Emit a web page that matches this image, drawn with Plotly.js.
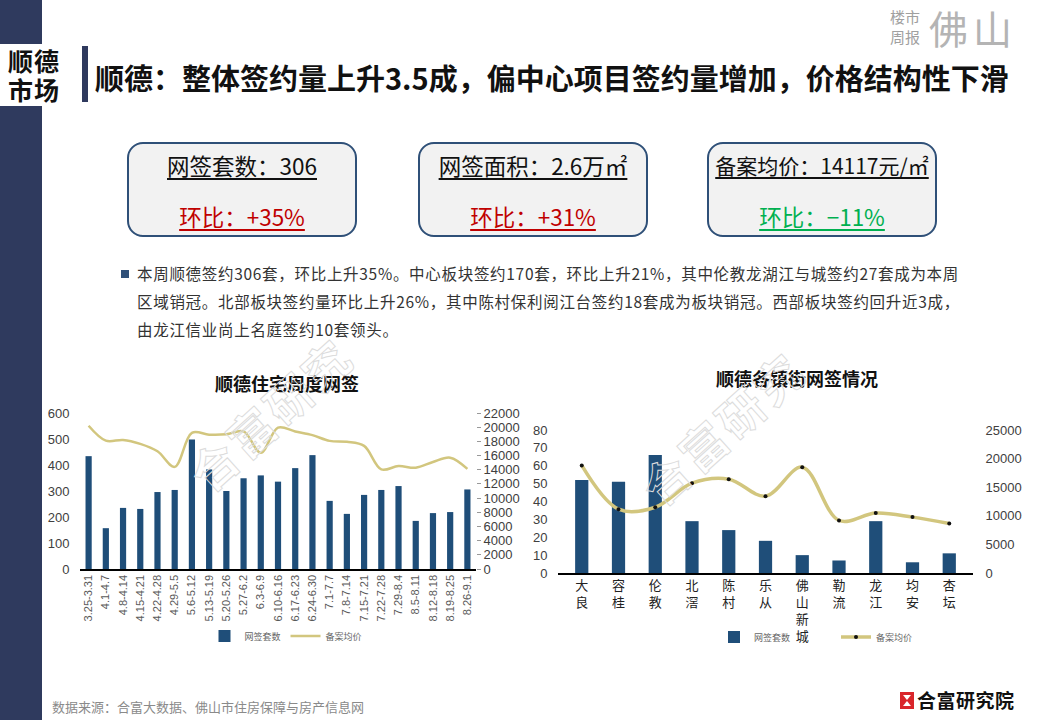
<!DOCTYPE html>
<html><head><meta charset="utf-8">
<script src="https://cdn.plot.ly/plotly-3.0.1.min.js"></script>
<style>
body{margin:0;padding:0;background:#fff;}
#page{position:relative;width:1040px;height:720px;overflow:hidden;background:#fff;font-family:"Noto Sans CJK SC","Liberation Sans",sans-serif;}
#plot{position:absolute;left:0;top:0;width:1040px;height:720px;}
.abs{position:absolute;}
.box{position:absolute;top:142px;width:226px;height:91px;border:2.5px solid #2F5078;border-radius:16px;background:#F2F2F2;}
.l1{position:absolute;left:0;right:0;top:5px;text-align:center;font-size:22.5px;color:#111;text-decoration:underline;text-underline-offset:3px;white-space:nowrap;}
.l2{position:absolute;left:0;right:0;top:56px;text-align:center;font-size:22.5px;text-decoration:underline;text-underline-offset:3px;}
.wm{position:absolute;font-size:46px;font-weight:700;color:transparent;-webkit-text-stroke:1px #dcdcdc;white-space:nowrap;pointer-events:none;transform-origin:center;letter-spacing:4px;}
.bt{position:absolute;left:137px;font-size:15.5px;color:#333;white-space:nowrap;letter-spacing:0.7px;}
</style></head>
<body>
<div id="page">
  <div class="abs" style="left:0;top:0;width:42px;height:720px;background:#2F3A5E;"></div>
  <div class="abs" style="left:0;top:44px;width:76px;height:62px;background:#fff;"></div>
  <div class="abs" style="left:8px;top:46px;width:70px;font-size:25px;font-weight:700;line-height:29px;color:#111;letter-spacing:1px;">顺德<br>市场</div>
  <div class="abs" style="left:82px;top:46px;width:6px;height:56px;background:#2F3A5E;"></div>
  <div class="abs" style="left:95px;top:56px;font-size:29px;font-weight:700;color:#111;white-space:nowrap;">顺德：整体签约量上升3.5成，偏中心项目签约量增加，价格结构性下滑</div>
  <div class="abs" style="left:890px;top:7px;font-size:15px;line-height:20px;color:#a0a0a0;">楼市<br>周报</div>
  <div class="abs" style="left:929px;top:8px;font-size:39px;line-height:39px;color:#b4b4b4;letter-spacing:5px;">佛山</div>

  <div class="box" style="left:127px;"><div class="l1">网签套数：306</div><div class="l2" style="color:#C00000;">环比：+35%</div></div>
  <div class="box" style="left:418px;"><div class="l1">网签面积：2.6万㎡</div><div class="l2" style="color:#C00000;">环比：+31%</div></div>
  <div class="box" style="left:707px;"><div class="l1" style="font-size:21px;top:6px;">备案均价：14117元/㎡</div><div class="l2" style="color:#00B050;">环比：−11%</div></div>

  <div class="abs" style="left:121px;top:270px;width:8px;height:8px;background:#2F5078;"></div>
  <div class="bt" style="top:262px;">本周顺德签约306套，环比上升35%。中心板块签约170套，环比上升21%，其中伦教龙湖江与城签约27套成为本周</div>
  <div class="bt" style="top:290px;">区域销冠。北部板块签约量环比上升26%，其中陈村保利阅江台签约18套成为板块销冠。西部板块签约回升近3成，</div>
  <div class="bt" style="top:318px;">由龙江信业尚上名庭签约10套领头。</div>

  <div id="plot"></div>

  <div class="wm" style="left:170px;top:380px;transform:rotate(-42deg);">合富研究</div>
  <div class="wm" style="left:622px;top:394px;transform:rotate(-42deg);">合富研究</div>

  <div class="abs" style="left:52px;top:697px;font-size:13px;color:#8a8a8a;white-space:nowrap;">数据来源：合富大数据、佛山市住房保障与房产信息网</div>
  <div class="abs" style="left:900px;top:692px;width:14px;height:17px;background:#D9262B;"></div>
  <div class="abs" style="left:903px;top:695px;width:0;height:0;border-left:4px solid transparent;border-right:4px solid transparent;border-top:5px solid #fff;"></div>
  <div class="abs" style="left:903px;top:701px;width:0;height:0;border-left:4px solid transparent;border-right:4px solid transparent;border-bottom:5px solid #fff;"></div>
  <div class="abs" style="left:917px;top:686px;font-size:19px;font-weight:700;color:#111;white-space:nowrap;letter-spacing:0.5px;">合富研究院</div>
</div>
<script>
// Left chart: weekly signings
const weeks = ["3.25-3.31","4.1-4.7","4.8-4.14","4.15-4.21","4.22-4.28","4.29-5.5","5.6-5.12","5.13-5.19","5.20-5.26","5.27-6.2","6.3-6.9","6.10-6.16","6.17-6.23","6.24-6.30","7.1-7.7","7.8-7.14","7.15-7.21","7.22-7.28","7.29-8.4","8.5-8.11","8.12-8.18","8.19-8.25","8.26-9.1"];
const weeklyUnits = [434,157,235,231,296,304,498,383,300,349,360,336,388,438,262,212,285,304,319,185,215,219,306];
const weeklyPrice = [20200,18100,18200,17650,16600,14400,19200,18950,19000,19400,16400,19950,19400,18880,18070,17930,17360,14050,14520,14290,15090,15700,14117];

// Right chart: by town
const towns = ["大<br>良","容<br>桂","伦<br>教","北<br>滘","陈<br>村","乐<br>从","佛<br>山<br>新<br>城","勒<br>流","龙<br>江","均<br>安","杏<br>坛"];
const townUnits = [52,51,66,29,24,18,10,7,29,6,11];
const townPrice = [18800,11150,11500,15700,16400,13430,18500,9190,10470,9770,8660];

const barColor = '#1F4E79';
const lineColor = '#D2C67E';

const traces = [
  {type:'bar', x:weeks, y:weeklyUnits, name:'网签套数', marker:{color:barColor}, xaxis:'x', yaxis:'y', legend:'legend'},
  {type:'scatter', mode:'lines', x:weeks, y:weeklyPrice, name:'备案均价', line:{color:lineColor, width:2.5, shape:'spline', smoothing:1}, xaxis:'x', yaxis:'y2', legend:'legend'},
  {type:'bar', x:towns, y:townUnits, name:'网签套数', marker:{color:barColor}, xaxis:'x2', yaxis:'y3', legend:'legend2'},
  {type:'scatter', mode:'lines+markers', x:towns, y:townPrice, name:'备案均价', line:{color:lineColor, width:3.5, shape:'spline', smoothing:1}, marker:{color:'#111', size:4}, xaxis:'x2', yaxis:'y4', legend:'legend3'}
];

const numFont = {family:'Liberation Sans, Arial, sans-serif', size:13, color:'#404040'};
const legFont = {family:'Noto Sans CJK SC', size:9, color:'#666'};
const layout = {
  width:1040, height:720, margin:{l:0,r:0,t:0,b:0},
  paper_bgcolor:'rgba(0,0,0,0)', plot_bgcolor:'rgba(0,0,0,0)',
  font:{family:'Liberation Sans, Noto Sans CJK SC, sans-serif', size:12, color:'#404040'},
  bargap:0.64,
  xaxis:{domain:[80/1040,476/1040], anchor:'y', type:'category', tickangle:-90, tickfont:{family:'Liberation Sans, Arial', size:11, color:'#595959'}, showline:true, linecolor:'#000', linewidth:1.5, ticks:'', showgrid:false},
  yaxis:{domain:[151/720,307/720], anchor:'x', range:[0,600], dtick:100, showgrid:false, zeroline:false, ticks:'outside', ticklen:7, tickcolor:'rgba(0,0,0,0)', tickfont:numFont},
  yaxis2:{overlaying:'y', side:'right', anchor:'x', range:[0,22000], dtick:2000, tickformat:'d', showgrid:false, zeroline:false, ticks:'outside', ticklen:4, tickcolor:'#999', tickfont:numFont},
  xaxis2:{domain:[558/1040,973/1040], anchor:'y3', type:'category', tickangle:0, tickfont:{family:'Noto Sans CJK SC', size:13, color:'#222'}, showline:true, linecolor:'#000', linewidth:1.5, ticks:'', showgrid:false},
  yaxis3:{domain:[147/720,290/720], anchor:'x2', range:[0,80], dtick:10, showgrid:false, zeroline:false, ticks:'outside', ticklen:7, tickcolor:'rgba(0,0,0,0)', tickfont:numFont},
  yaxis4:{overlaying:'y3', side:'right', anchor:'x2', range:[0,25000], dtick:5000, tickformat:'d', showgrid:false, zeroline:false, ticks:'outside', ticklen:9, tickcolor:'rgba(0,0,0,0)', tickfont:numFont},
  legend:{orientation:'h', x:0.275, y:84/720, xanchor:'center', yanchor:'middle', font:legFont, bgcolor:'rgba(0,0,0,0)', itemwidth:30},
  legend2:{orientation:'h', x:714/1040, y:83/720, xanchor:'left', yanchor:'middle', font:legFont, bgcolor:'rgba(0,0,0,0)', itemwidth:30},
  legend3:{orientation:'h', x:836/1040, y:83/720, xanchor:'left', yanchor:'middle', font:legFont, bgcolor:'rgba(0,0,0,0)', itemwidth:30},
  annotations:[
    {text:'<b>顺德住宅周度网签</b>', xref:'paper', yref:'paper', x:287/1040, y:(720-383)/720, xanchor:'center', yanchor:'middle', showarrow:false, font:{family:'Noto Sans CJK SC', size:18, color:'#111'}},
    {text:'<b>顺德各镇街网签情况</b>', xref:'paper', yref:'paper', x:797/1040, y:(720-378)/720, xanchor:'center', yanchor:'middle', showarrow:false, font:{family:'Noto Sans CJK SC', size:18, color:'#111'}}
  ]
};
Plotly.newPlot('plot', traces, layout, {displayModeBar:false, staticPlot:true});
</script>
</body></html>
